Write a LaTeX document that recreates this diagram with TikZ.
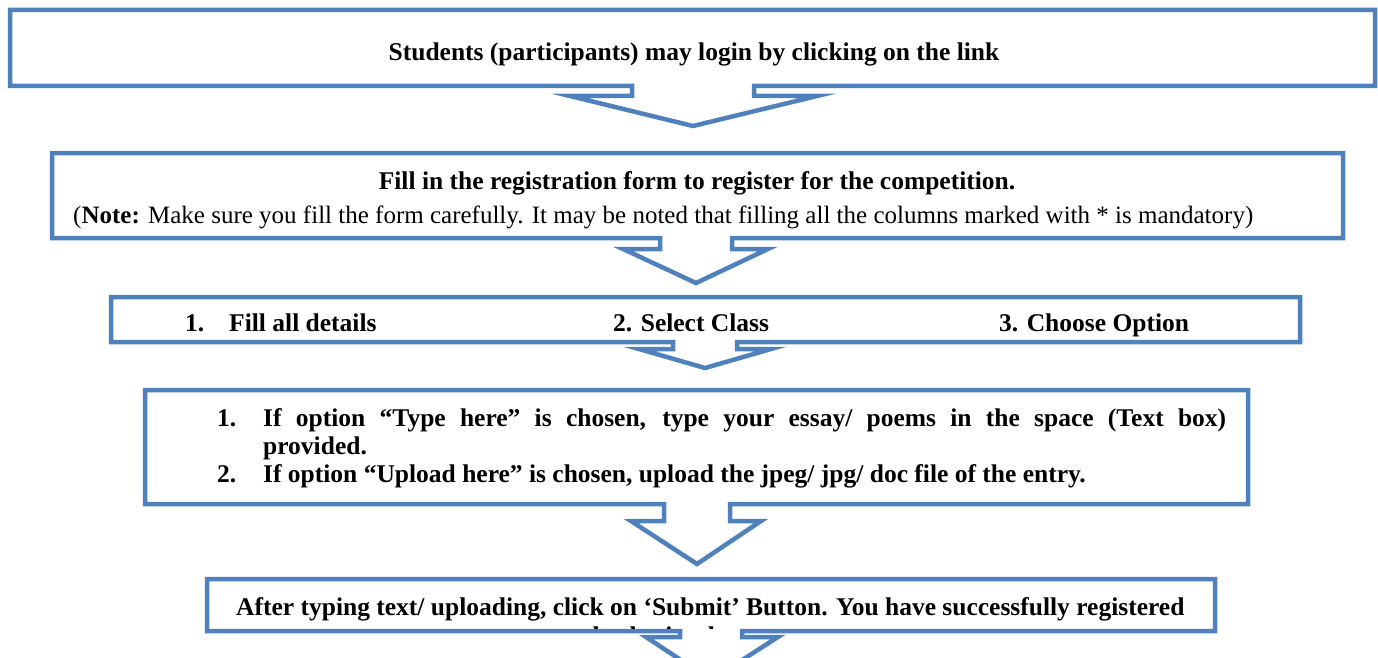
\documentclass[tikz,border=0pt]{standalone}
\usepackage{fontspec}
\setmainfont{Liberation Serif}
\definecolor{boxblue}{HTML}{4F81BD}
\begin{document}
\begin{tikzpicture}[x=1pt,y=-1pt,
  flow/.style={draw=boxblue, line width=4.5pt, line join=miter, fill=white},
  btxt/.style={inner sep=0pt, font=\fontsize{25.5}{29}\selectfont\bfseries},
  rtxt/.style={inner sep=0pt, font=\fontsize{25}{29}\selectfont}]
\useasboundingbox (0,0) rectangle (1378,658);
\clip (0,0) rectangle (1378,658);

% box 1
\draw[flow] (10,10) -- (1375,10) -- (1375,86) -- (754,86) -- (754,96) -- (817,96)
  -- (693,126) -- (570,96) -- (632,96) -- (632,86) -- (10,86) -- cycle;
\node[btxt, anchor=base] (t1) at (694,61) {Students (participants) may login by clicking on the link};

% box 2
\draw[flow] (52,153) -- (1343,153) -- (1343,238) -- (732,238) -- (732,249) -- (768,249)
  -- (696,283) -- (623,249) -- (660,249) -- (660,238) -- (52,238) -- cycle;
\node[btxt, anchor=base] (t2) at (697,189) {Fill in the registration form to register for the competition.};
\node[rtxt, anchor=base west] (t2n) at (73,223) {(\textbf{Note:} Make sure you fill the form carefully. It may be noted that filling all the columns marked with * is mandatory)};

% box 3
\draw[flow] (111,297) -- (1300,297) -- (1300,342) -- (737,342) -- (737,349) -- (771,349)
  -- (705,368) -- (639,349) -- (673,349) -- (673,342) -- (111,342) -- cycle;
\node[btxt, anchor=base west] (n31) at (185,331) {1.};
\node[btxt, anchor=base west] (t31) at (229,331) {Fill all details};
\node[btxt, anchor=base west] (t32) at (613,331) {2. Select Class};
\node[btxt, anchor=base west] (t33) at (999,331) {3. Choose Option};

% box 4
\draw[flow] (145,390) -- (1248,390) -- (1248,504) -- (730,504) -- (730,521) -- (761,521)
  -- (697,564) -- (631,521) -- (664,521) -- (664,504) -- (145,504) -- cycle;
\node[btxt, anchor=base west] (n41) at (217,426) {1.};
\node[btxt, anchor=base west] (t41) at (263,426) {\makebox[963pt][s]{If option “Type here” is chosen, type your essay/ poems in the space (Text box)}};
\node[btxt, anchor=base west] (t42) at (263,454) {provided.};
\node[btxt, anchor=base west] (n43) at (217,482) {2.};
\node[btxt, anchor=base west] (t43) at (263,482) {If option “Upload here” is chosen, upload the jpeg/ jpg/ doc file of the entry.};

% box 5
\draw[flow] (207,579) -- (1215,579) -- (1215,631) -- (742,631) -- (742,637) -- (778,637)
  -- (711,680) -- (646,637) -- (680,637) -- (680,631) -- (207,631) -- cycle;
\node[btxt, anchor=base west] (t51) at (236,615) {After typing text/ uploading, click on ‘Submit’ Button. You have successfully registered};
\begin{scope}
  \clip (210,582) rectangle (1212,628.8);
  \node[btxt, anchor=base] (t52) at (700,644) {and submitted your entry.};
\end{scope}
\end{tikzpicture}
\end{document}
